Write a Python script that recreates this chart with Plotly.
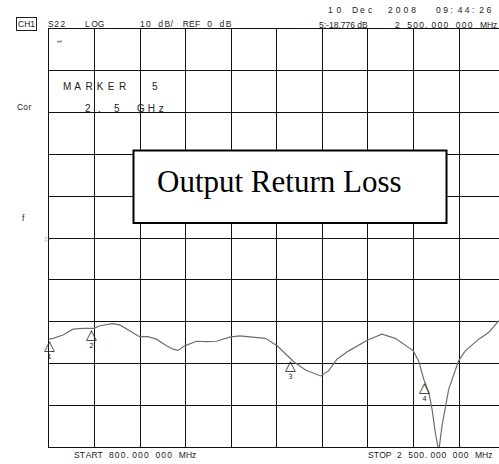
import math
import numpy as np
import plotly.graph_objects as go

# ---- data ----
freq_mhz = [800, 815, 852, 890, 927, 968, 989, 1037, 1064, 1101, 1138, 1169, 1201, 1238,
            1263, 1281, 1306, 1350, 1387, 1425, 1474, 1511, 1549, 1607, 1651, 1682, 1713,
            1757, 1813, 1843, 1874, 1918, 1989, 2042, 2092, 2159, 2179, 2198, 2217, 2229,
            2241, 2254, 2266, 2291, 2328, 2353, 2403, 2440, 2475, 2500]
s22_db = [-24.2, -24.0, -23.2, -21.8, -21.6, -21.6, -21.0, -20.5, -20.8, -22.2, -23.6, -23.6,
          -24.2, -25.8, -26.6, -26.9, -25.8, -24.7, -24.8, -24.7, -23.7, -23.4, -23.6, -24.0,
          -25.8, -27.8, -29.6, -31.6, -33.0, -31.8, -29.0, -27.0, -24.4, -23.0, -24.0, -27.0,
          -29.4, -33.8, -37.0, -41.0, -46.5, -51.0, -45.0, -36.2, -29.4, -27.0, -24.2, -22.6,
          -20.0, -18.776]
marker_freq = [800, 960, 1700, 2200, 2500]
marker_labels = ["1", "2", "3", "4", "5"]
marker5_db = -18.776
start_mhz = 800
stop_mhz = 2500
db_per_div = 10
ref_db = 0
x_divs = 10
y_divs = 10

W, H = 499, 464
L_ref, T_ref, B_ref = 49, 29, 447   # plot-area edges in pixels
L, T = L_ref, T_ref
Bm = H - B_ref
plot_w = W - L
plot_h = H - T - Bm
full_w = 455.7  # full 10-division graticule width in px (cut off by window)

x_step = (stop_mhz - start_mhz) / x_divs
x_end = start_mhz + (stop_mhz - start_mhz) * plot_w / full_w
y_lo = ref_db - db_per_div * y_divs / 2
y_hi = ref_db + db_per_div * y_divs / 2

mk_db = np.interp(marker_freq, freq_mhz, s22_db)


def px(x):  # pixel -> paper
    return (x - L_ref) / plot_w


def py(y):
    return (B_ref - y) / plot_h


SP = "\u00a0"
# Arial/Liberation Sans advance widths (1/1000 em)
AW = {c: 556 for c in "0123456789"}
AW.update({" ": 278, ".": 278, ":": 278, "/": 278, "-": 333, "A": 667, "B": 667, "C": 722,
           "D": 722, "E": 667, "F": 611, "G": 778, "H": 722, "K": 667, "L": 556, "M": 833,
           "O": 778, "P": 667, "R": 722, "S": 667, "T": 611, "z": 500, "e": 556, "c": 500,
           "d": 556, "o": 556, "r": 333})


def mono(s, size, pitch, trail=False):
    """Sans text padded to a fixed character pitch (instrument style)."""
    out = []
    for i, c in enumerate(s):
        out.append(SP if c == " " else c)
        if i == len(s) - 1 and not trail:
            break
        gap = pitch - AW.get(c, 556) * size / 1000
        if gap > 0.1:
            n = math.ceil(gap / (0.278 * size * 0.95))
            fs = gap / n / 0.278
            out.append((f"<span style='font-size:{fs:.2f}px'>{SP}</span>") * n)
    return "".join(out)


fig = go.Figure()
fig.add_trace(go.Scatter(x=freq_mhz, y=s22_db, mode="lines",
                         line=dict(color="#6e6e6e", width=1.2),
                         hoverinfo="skip", showlegend=False))

FS = 8.5
inst = dict(family="Liberation Sans", size=FS, color="#222")
ann = []


def txt(x, y, t, xa="left", ya="middle", font=inst, **kw):
    ann.append(dict(x=px(x), y=py(y), xref="paper", yref="paper", text=t, showarrow=False,
                    xanchor=xa, yanchor=ya, font=font, **kw))


# markers on trace
for f, d, lab in zip(marker_freq, mk_db, marker_labels):
    if start_mhz <= f <= x_end:
        ann.append(dict(x=f, y=d, xref="x", yref="y", showarrow=False, xanchor="center",
                        yanchor="top", yshift=4,
                        text="<span style='font-size:14px'>△</span><br>" + lab,
                        font=dict(family="DejaVu Sans", size=7, color="#222")))

# header
hy = 23.5
txt(15.5, hy, mono("CH1", FS, 6.2), bordercolor="#222", borderwidth=1, borderpad=1)
txt(46, hy, mono("S22", FS, 6.2))
txt(83, hy, mono("LOG", FS, 6.2))
txt(138, hy, mono(f"{db_per_div} dB/ REF {ref_db} dB", FS, 6.1))
txt(326, 10.3, mono("10", FS, 8.5))
txt(350, 10.3, mono("Dec", FS, 8.0))
txt(385.5, 10.3, mono("2008", FS, 7.7))
txt(434, 10.3, mono("09:44:26", FS, 7.2))
txt(317, 25, f"{marker_labels[4]}:{marker5_db:.3f}{SP}dB")
txt(498.5, 25, mono(f"{stop_mhz // 1000} {stop_mhz % 1000:03d}.000 000 MHz", FS, 6.05),
    xa="right")
txt(55, 42, "<i>ᴴᴾ</i>", font=dict(family="DejaVu Sans", size=6, color="#222"))
big = dict(family="Liberation Sans", size=10, color="#222")
txt(60.5, 86, mono("MARKER", 10, 11.2), font=big)
txt(150, 86, marker_labels[4], font=big)
txt(83, 108, "2", font=big)
txt(95.5, 108, ".", font=big)
txt(111.5, 108, "5", font=big)
txt(135, 108, mono("GHz", 10, 10.8), font=big)
txt(15, 107, mono("Cor", FS, 5.4))
txt(20, 218, "f")
txt(43, 239, "▷", font=dict(family="DejaVu Sans", size=7, color="#777"))
txt(71.5, 455, mono(f"START {start_mhz}.000 000 MHz", FS, 5.8))
txt(366, 455, mono(f"STOP {stop_mhz // 1000} {stop_mhz % 1000:03d}.000 000 MHz", FS, 5.55))

# title box
ann.append(dict(x=px(155), y=py(181), xref="paper", yref="paper", text="Output Return Loss",
                showarrow=False, xanchor="left", yanchor="middle",
                font=dict(family="Liberation Serif", size=31, color="#000")))

fig.update_layout(
    width=W, height=H,
    margin=dict(l=L, r=0, t=T, b=Bm, pad=0),
    paper_bgcolor="white", plot_bgcolor="white",
    annotations=ann,
    shapes=[dict(type="rect", xref="paper", yref="paper",
                 x0=px(133.5), x1=px(446.5), y0=py(223), y1=py(150.5),
                 line=dict(color="#000", width=2), fillcolor="white", layer="above")],
    xaxis=dict(range=[start_mhz, x_end], tick0=start_mhz, dtick=x_step, showticklabels=False,
               ticks="", showgrid=True, gridcolor="#111", gridwidth=1, zeroline=False,
               showline=True, linecolor="#111", linewidth=1, mirror=True),
    yaxis=dict(range=[y_lo, y_hi], tick0=y_lo, dtick=db_per_div, showticklabels=False,
               ticks="", showgrid=True, gridcolor="#111", gridwidth=1, zeroline=False,
               showline=True, linecolor="#111", linewidth=1, mirror=False),
)

fig.write_html("out.html", config={"displayModeBar": False},
               post_script="document.body.style.margin='0';document.body.style.overflow='hidden';")
